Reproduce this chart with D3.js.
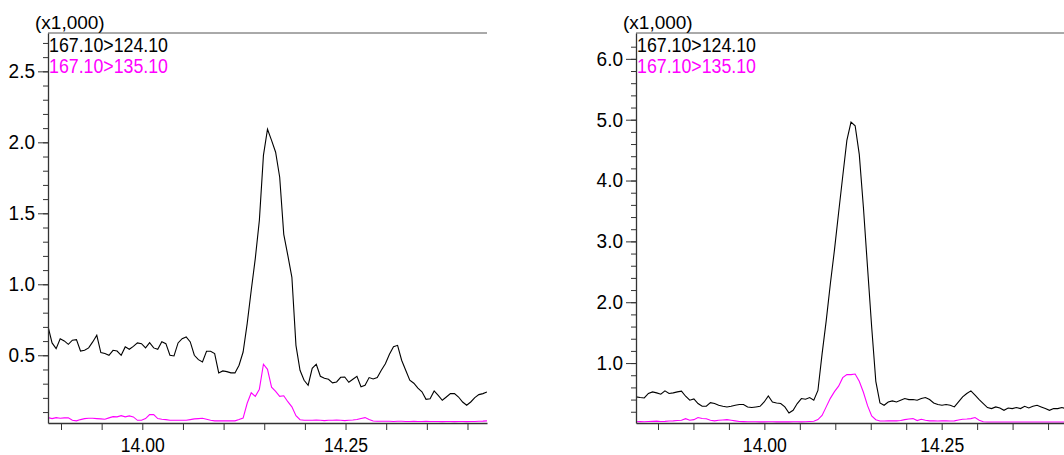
<!DOCTYPE html>
<html>
<head>
<meta charset="utf-8">
<script src="https://cdn.jsdelivr.net/npm/d3@7"></script>
<style>
  body { margin: 0; background: #fff; }
  text { font-family: "Liberation Sans Narrow", "Liberation Sans", sans-serif; }
</style>
</head>
<body>
<svg width="1064" height="455"></svg>
<script>
// channel names
var channels = ["167.10>124.10", "167.10>135.10"];
var xLabelTicks = [14.00, 14.25];

// left chromatogram, scans every 0.005 min from 13.884
var leftStart = 13.884, leftStep = 0.005;
var left124 = [
  0.704, 0.587, 0.547, 0.617, 0.601, 0.577, 0.606, 0.610, 0.530, 0.535,
  0.552, 0.594, 0.641, 0.519, 0.512, 0.500, 0.535, 0.530, 0.500, 0.559,
  0.542, 0.563, 0.587, 0.582, 0.552, 0.589, 0.552, 0.542, 0.596, 0.582,
  0.500, 0.495, 0.587, 0.617, 0.629, 0.594, 0.500, 0.469, 0.453, 0.528,
  0.528, 0.512, 0.376, 0.390, 0.385, 0.376, 0.376, 0.430, 0.523, 0.723,
  0.958, 1.183, 1.451, 1.908, 2.092, 2.014, 1.930, 1.754, 1.352, 1.204, 1.049,
  0.570, 0.394, 0.324, 0.289, 0.408, 0.437, 0.352, 0.338, 0.331, 0.306,
  0.312, 0.345, 0.347, 0.310, 0.331, 0.352, 0.278, 0.289, 0.343, 0.333,
  0.343, 0.394, 0.440, 0.507, 0.560, 0.570, 0.465, 0.394, 0.324, 0.303,
  0.268, 0.243, 0.190, 0.194, 0.249, 0.218, 0.183, 0.206, 0.230, 0.230,
  0.206, 0.171, 0.148, 0.171, 0.202, 0.223, 0.230, 0.242
];
var left135 = [
  0.061, 0.054, 0.061, 0.056, 0.059, 0.059, 0.042, 0.038, 0.047, 0.054,
  0.056, 0.056, 0.054, 0.052, 0.049, 0.059, 0.068, 0.066, 0.075, 0.066,
  0.073, 0.066, 0.042, 0.042, 0.054, 0.082, 0.082, 0.054, 0.049, 0.047,
  0.042, 0.042, 0.042, 0.042, 0.042, 0.047, 0.052, 0.054, 0.056, 0.049,
  0.042, 0.038, 0.038, 0.038, 0.038, 0.038, 0.038, 0.047, 0.058, 0.162,
  0.236, 0.211, 0.261, 0.437, 0.401, 0.275, 0.246, 0.211, 0.215, 0.173,
  0.137, 0.074, 0.046,
  0.042, 0.042, 0.042, 0.044, 0.042, 0.040, 0.042, 0.042, 0.044, 0.042,
  0.040, 0.042, 0.044, 0.048, 0.055, 0.061, 0.047, 0.037, 0.035, 0.035,
  0.035, 0.035, 0.034, 0.035, 0.035, 0.034, 0.034, 0.035, 0.034, 0.034,
  0.035, 0.034, 0.034, 0.034, 0.033, 0.034, 0.034, 0.033, 0.034, 0.034,
  0.033, 0.034, 0.034, 0.035, 0.036, 0.038
];
var leftYLabels = [0.5, 1.0, 1.5, 2.0, 2.5];

// right chromatogram, scans every 0.00583 min from 13.819
var rightStart = 13.819, rightStep = 0.00583;
var right124 = [
  0.444, 0.434, 0.427, 0.500, 0.526, 0.510, 0.488, 0.543, 0.500, 0.510,
  0.526, 0.538, 0.455, 0.389, 0.411, 0.335, 0.290, 0.290, 0.350, 0.335,
  0.307, 0.290, 0.279, 0.290, 0.307, 0.318, 0.318, 0.279, 0.269, 0.279,
  0.290, 0.361, 0.460, 0.361, 0.345, 0.335, 0.279, 0.180, 0.224, 0.335,
  0.417, 0.406, 0.434, 0.389,
  0.550, 1.148, 1.693, 2.300, 2.860, 3.470, 4.070, 4.660, 4.960, 4.900,
  4.430, 3.560, 2.570, 1.594, 0.700, 0.345,
  0.307, 0.361, 0.378, 0.361, 0.389, 0.417, 0.400, 0.400, 0.389, 0.417,
  0.434, 0.400, 0.345, 0.318, 0.307, 0.318, 0.307, 0.279, 0.361, 0.444,
  0.500, 0.543, 0.472, 0.400, 0.335, 0.269, 0.252, 0.279, 0.262, 0.224,
  0.262, 0.252, 0.269, 0.252, 0.290, 0.262, 0.290, 0.307, 0.279, 0.252,
  0.224, 0.252, 0.252, 0.269, 0.252, 0.260, 0.250
];
var right135 = [
  0.035, 0.038, 0.036, 0.040, 0.042, 0.045, 0.040, 0.042, 0.048, 0.050,
  0.055, 0.060, 0.087, 0.060, 0.070, 0.104, 0.090, 0.085, 0.060, 0.050,
  0.060, 0.065, 0.071, 0.060, 0.050,
  0.040, 0.038, 0.036, 0.035, 0.035, 0.034, 0.034, 0.035, 0.035, 0.034,
  0.034, 0.034, 0.034, 0.035, 0.035, 0.034, 0.036, 0.040, 0.045,
  0.071, 0.140, 0.280, 0.420, 0.530, 0.620, 0.760, 0.810, 0.810, 0.820,
  0.700, 0.520, 0.300, 0.130, 0.070, 0.048,
  0.048, 0.050, 0.052, 0.050, 0.055, 0.070, 0.080, 0.087, 0.055, 0.076,
  0.060, 0.050, 0.050, 0.048, 0.050, 0.050, 0.048, 0.050, 0.065, 0.076,
  0.080, 0.087, 0.104, 0.060, 0.035, 0.031, 0.031, 0.031, 0.031, 0.031,
  0.031, 0.031, 0.031, 0.031, 0.031, 0.031, 0.031, 0.031, 0.031, 0.031,
  0.031, 0.031, 0.031, 0.031, 0.031, 0.031, 0.031
];
var rightYLabels = [1.0, 2.0, 3.0, 4.0, 5.0, 6.0];

var svg = d3.select("svg");
var colors = ["#000000", "#ff00ff"];
var plotTop = 33, plotBottom = 423;

// half-width glyph look: every character about 8.8px wide
var squeeze = function(sel){
  sel.attr("textLength", function(){ return this.textContent.length * 8.8; })
     .attr("lengthAdjust", "spacingAndGlyphs");
};

var panels = [
  {id: "l", left: 48, right: 487, xDomain: [13.884, 14.424], yDomain: [0.023, 2.77],
   start: leftStart, step: leftStep, series: [left124, left135],
   yLabels: leftYLabels, yMinor: 0.1},
  {id: "r", left: 636, right: 1075, xDomain: [13.819, 14.438], yDomain: [0.015, 6.425],
   start: rightStart, step: rightStep, series: [right124, right135],
   yLabels: rightYLabels, yMinor: 0.2}
];

panels.forEach(function(p){
  var xScale = d3.scaleLinear().domain(p.xDomain).range([p.left, p.right]);
  var yScale = d3.scaleLinear().domain(p.yDomain).range([plotBottom, plotTop]);

  svg.append("clipPath").attr("id", "clip-" + p.id)
    .append("rect")
    .attr("x", p.left).attr("y", plotTop)
    .attr("width", p.right - p.left).attr("height", plotBottom - plotTop + 2);

  var line = d3.line()
    .x(function(d, i){ return xScale(p.start + i * p.step); })
    .y(function(d){ return yScale(d); });

  // magenta drawn first, black on top
  [1, 0].forEach(function(k){
    svg.append("path")
      .datum(p.series[k])
      .attr("clip-path", "url(#clip-" + p.id + ")")
      .attr("fill", "none")
      .attr("stroke", colors[k])
      .attr("stroke-width", 1.1)
      .attr("d", line);
  });

  // top frame line
  svg.append("line")
    .attr("x1", p.left).attr("x2", p.right)
    .attr("y1", plotTop).attr("y2", plotTop)
    .attr("stroke", "#555").attr("stroke-width", 1);

  // y minor ticks
  var minor = d3.range(1, 40).map(function(k){ return +(k * p.yMinor).toFixed(2); })
    .filter(function(v){ return yScale(v) > plotTop + 6 && yScale(v) < plotBottom - 4; });
  svg.append("g")
    .attr("transform", "translate(" + p.left + ",0)")
    .call(d3.axisLeft(yScale).tickValues(minor).tickSize(5).tickSizeOuter(0).tickFormat(""))
    .call(function(g){ g.select(".domain").remove(); })
    .selectAll("line").attr("stroke", "#333");

  var yAxis = d3.axisLeft(yScale)
    .tickValues(p.yLabels)
    .tickSize(10)
    .tickSizeOuter(0)
    .tickPadding(3)
    .tickFormat(d3.format(".1f"));
  var yg = svg.append("g")
    .attr("transform", "translate(" + p.left + ",0)")
    .call(yAxis);
  yg.attr("font-family", null);
  yg.select(".domain").attr("stroke", "#333").attr("stroke-width", 1.3);
  yg.selectAll("line").attr("stroke", "#333");
  yg.selectAll("text").attr("font-size", 20).attr("fill", "#000").call(squeeze);

  // x axis, tick every 0.05 min
  var xTicks = d3.range(270, 300).map(function(k){ return +(k * 0.05).toFixed(2); })
    .filter(function(v){ return v > p.xDomain[0] && v < p.xDomain[1]; });
  var xAxis = d3.axisBottom(xScale)
    .tickValues(xTicks)
    .tickSize(7)
    .tickSizeOuter(0)
    .tickPadding(8)
    .tickFormat(function(d){
      return xLabelTicks.some(function(t){ return Math.abs(t - d) < 1e-6; }) ? d3.format(".2f")(d) : "";
    });
  var xg = svg.append("g")
    .attr("transform", "translate(0," + plotBottom + ")")
    .call(xAxis);
  xg.attr("font-family", null);
  xg.select(".domain").attr("stroke", "#333").attr("stroke-width", 1.3);
  xg.selectAll("line").attr("stroke", "#333");
  xg.selectAll("text").filter(function(){ return this.textContent !== ""; })
    .attr("font-size", 20).attr("fill", "#000").call(squeeze);

  svg.append("text")
    .attr("x", p.left - 13).attr("y", 29)
    .attr("font-size", 19)
    .text("(x1,000)");

  channels.forEach(function(c, k){
    svg.append("text")
      .attr("x", p.left + 1).attr("y", 52 + k * 21)
      .attr("font-size", 20)
      .attr("fill", colors[k])
      .attr("textLength", 119)
      .attr("lengthAdjust", "spacingAndGlyphs")
      .text(c);
  });
});
</script>
</body>
</html>
